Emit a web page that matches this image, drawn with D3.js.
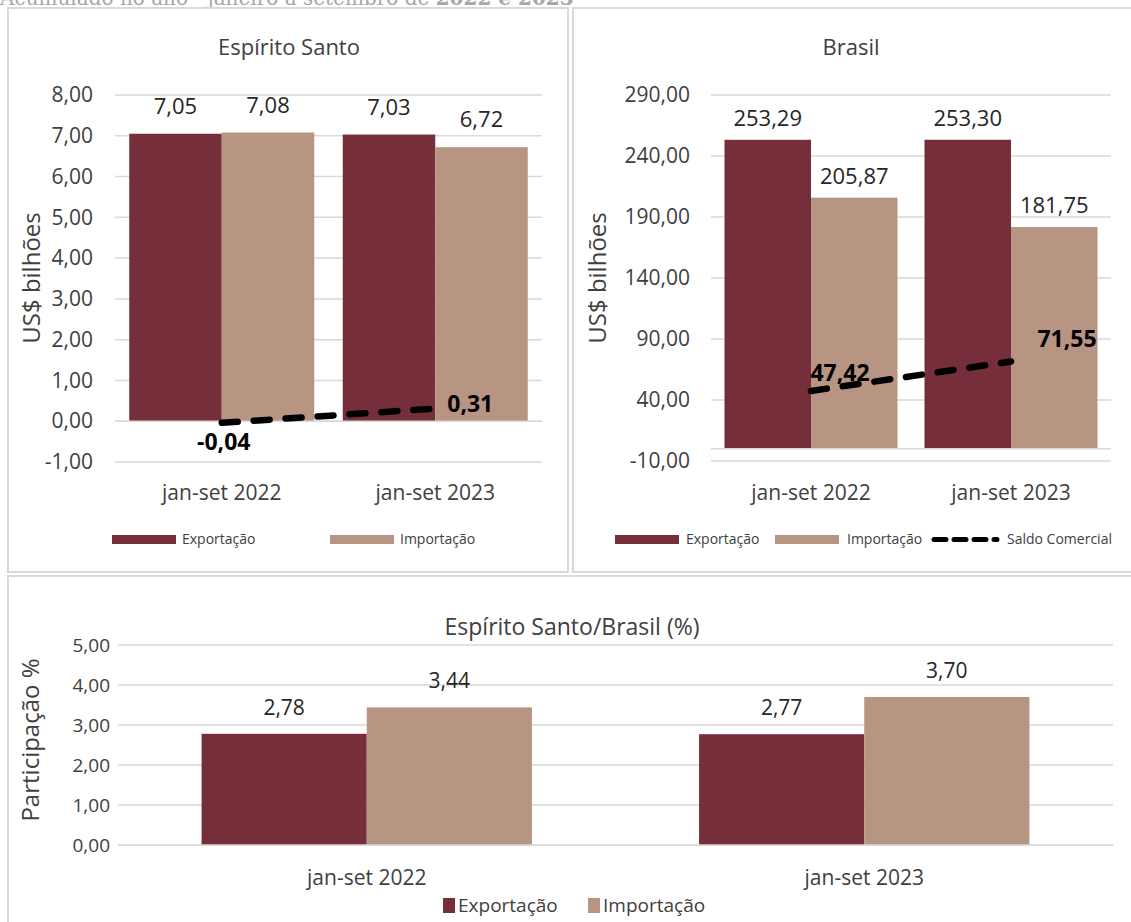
<!DOCTYPE html>
<html>
<head>
<meta charset="utf-8">
<script src="https://cdn.jsdelivr.net/npm/d3@7"></script>
<style>
  body { margin: 0; background: #fff; }
  text { font-family: "Open Sans", sans-serif; }
</style>
</head>
<body>
<div id="chart-area"></div>
<script>
// data
var periods = ["jan-set 2022", "jan-set 2023"];
var seriesNames = ["Exportação", "Importação"];

var esExport = [7.05, 7.03];
var esImport = [7.08, 6.72];
var esSaldo = [-0.04, 0.31];
var esTicks = [-1, 0, 1, 2, 3, 4, 5, 6, 7, 8];

var brExport = [253.29, 253.30];
var brImport = [205.87, 181.75];
var brSaldo = [47.42, 71.55];
var brTicks = [-10, 40, 90, 140, 190, 240, 290];

var shareExport = [2.78, 2.77];
var shareImport = [3.44, 3.70];
var shareTicks = [0, 1, 2, 3, 4, 5];

var colors = { "Exportação": "#772e3b", "Importação": "#b89483" };
var fmt = function(v) { return d3.format(".2f")(v).replace(".", ",").replace("−", "-"); };

var W = 1131, H = 922;

const svg = d3.select("#chart-area")
    .append('svg')
    .attr('width', W)
    .attr('height', H);

svg.append('rect').attr('width', W).attr('height', H).attr('fill', '#fff');

// header text, cut at top like the source
const header = svg.append('text')
    .attr('x', 0)
    .attr('y', 5)
    .attr('font-size', '20px')
    .attr('fill', '#a6a6a6')
    .style('font-family', '"DejaVu Serif", serif');
header.append('tspan').text('Acumulado no ano - janeiro a setembro de ');
header.append('tspan').attr('font-weight', 'bold').text('2022 e 2023');

// panel frames
svg.append('rect').attr('x', 8).attr('y', 8).attr('width', 560).attr('height', 564)
    .attr('fill', 'none').attr('stroke', '#d9d9d9').attr('stroke-width', 2);
svg.append('rect').attr('x', 573).attr('y', 8).attr('width', 570).attr('height', 564)
    .attr('fill', 'none').attr('stroke', '#d9d9d9').attr('stroke-width', 2);
svg.append('rect').attr('x', 8).attr('y', 576).attr('width', 1140).attr('height', 360)
    .attr('fill', 'none').attr('stroke', '#d9d9d9').attr('stroke-width', 2);

function drawPanel(opt) {
    var g = svg.append('g');

    var yScale = d3.scaleLinear()
        .domain(opt.domain)
        .range(opt.yRange);

    var xScale = d3.scaleBand()
        .domain(periods)
        .range(opt.xRange)
        .padding(0);

    var xInner = d3.scaleBand()
        .domain(seriesNames)
        .range([0, xScale.bandwidth()])
        .paddingInner(0)
        .paddingOuter(opt.outer);

    // gridlines
    g.selectAll('line.grid')
        .data(opt.ticks)
        .enter()
        .append('line')
        .attr('class', 'grid')
        .attr('x1', opt.xRange[0])
        .attr('x2', opt.xRange[1])
        .attr('y1', function(d) { return yScale(d); })
        .attr('y2', function(d) { return yScale(d); })
        .attr('stroke', '#d9d9d9')
        .attr('stroke-width', 1.5);

    // y axis labels
    var yAxisCall = d3.axisLeft(yScale)
        .tickValues(opt.ticks)
        .tickSize(0)
        .tickPadding(opt.tickPad)
        .tickFormat(fmt);

    var yAxis = g.append('g')
        .attr('transform', 'translate(' + opt.xRange[0] + ',0)')
        .call(yAxisCall);
    yAxis.select('.domain').remove();
    yAxis.selectAll('text')
        .attr('font-family', '"Open Sans", sans-serif')
        .attr('font-size', opt.tickSize)
        .attr('fill', '#404040');

    // bars
    var rows = [];
    periods.forEach(function(p, i) {
        rows.push({ period: p, series: "Exportação", value: opt.exp[i] });
        rows.push({ period: p, series: "Importação", value: opt.imp[i] });
    });

    g.selectAll('rect.bar')
        .data(rows)
        .enter()
        .append('rect')
        .attr('class', 'bar')
        .attr('x', function(d) { return xScale(d.period) + xInner(d.series); })
        .attr('y', function(d) { return yScale(d.value); })
        .attr('width', xInner.bandwidth())
        .attr('height', function(d) { return yScale(0) - yScale(d.value); })
        .attr('fill', function(d) { return colors[d.series]; });

    // zero axis line
    g.append('line')
        .attr('x1', opt.xRange[0])
        .attr('x2', opt.xRange[1])
        .attr('y1', yScale(0))
        .attr('y2', yScale(0))
        .attr('stroke', '#d9d9d9')
        .attr('stroke-width', 1.5);

    // value labels
    g.selectAll('text.val')
        .data(rows)
        .enter()
        .append('text')
        .attr('class', 'val')
        .attr('x', function(d) { return xScale(d.period) + xInner(d.series) + xInner.bandwidth() / 2; })
        .attr('y', function(d) { return yScale(d.value) - opt.labelGap; })
        .attr('text-anchor', 'middle')
        .attr('font-size', opt.valSize)
        .attr('fill', '#262626')
        .text(function(d) { return fmt(d.value); });

    // category labels
    g.selectAll('text.cat')
        .data(periods)
        .enter()
        .append('text')
        .attr('class', 'cat')
        .attr('x', function(d) { return xScale(d) + xScale.bandwidth() / 2; })
        .attr('y', opt.catY)
        .attr('text-anchor', 'middle')
        .attr('font-size', opt.catSize)
        .attr('fill', '#404040')
        .text(function(d) { return d; });

    // title
    g.append('text')
        .attr('x', opt.titleX)
        .attr('y', opt.titleY)
        .attr('text-anchor', 'middle')
        .attr('font-size', opt.titleSize)
        .attr('fill', '#404040')
        .text(opt.title);

    // y axis title
    g.append('text')
        .attr('transform', 'translate(' + opt.yLabelX + ',' + opt.yLabelY + ') rotate(-90)')
        .attr('text-anchor', 'middle')
        .attr('font-size', opt.yLabelSize)
        .attr('fill', '#404040')
        .text(opt.yLabel);

    // saldo line
    if (opt.saldo) {
        var cx = function(i) { return xScale(periods[i]) + xScale.bandwidth() / 2; };
        var line = d3.line()
            .x(function(d, i) { return cx(i); })
            .y(function(d) { return yScale(d); });
        g.append('path')
            .datum(opt.saldo)
            .attr('d', line)
            .attr('fill', 'none')
            .attr('stroke', '#000')
            .attr('stroke-width', 6.5)
            .attr('stroke-linecap', 'round')
            .attr('stroke-dasharray', '16,16');

        g.selectAll('text.saldo')
            .data(opt.saldo)
            .enter()
            .append('text')
            .attr('class', 'saldo')
            .attr('x', function(d, i) { return cx(i) + opt.saldoDx[i]; })
            .attr('y', function(d, i) { return yScale(d) + opt.saldoDy[i]; })
            .attr('text-anchor', 'middle')
            .attr('font-size', opt.saldoSize)
            .attr('font-weight', 'bold')
            .attr('fill', '#000')
            .text(function(d) { return fmt(d); });
    }
    return g;
}

drawPanel({
    title: 'Espírito Santo', titleX: 289, titleY: 55, titleSize: '22px',
    domain: [-1, 8], yRange: [462, 95], xRange: [115, 542], outer: 0.154,
    ticks: esTicks, tickPad: 22, tickSize: '21px', valSize: '22px', labelGap: 20,
    catSize: '21px', exp: esExport, imp: esImport, catY: 500,
    yLabel: 'US$ bilhões', yLabelX: 40, yLabelY: 278, yLabelSize: '24px',
    saldo: esSaldo, saldoDx: [2, 35], saldoDy: [27, 3], saldoSize: '23px'
});

drawPanel({
    title: 'Brasil', titleX: 851, titleY: 55, titleSize: '22px',
    domain: [-10, 290], yRange: [461, 95], xRange: [711, 1111], outer: 0.156,
    ticks: brTicks, tickPad: 21, tickSize: '21px', valSize: '22px', labelGap: 14,
    catSize: '21px', exp: brExport, imp: brImport, catY: 500,
    yLabel: 'US$ bilhões', yLabelX: 606, yLabelY: 278, yLabelSize: '24px',
    saldo: brSaldo, saldoDx: [29, 56], saldoDy: [-10, -15], saldoSize: '23px'
});

drawPanel({
    title: 'Espírito Santo/Brasil (%)', titleX: 572, titleY: 635, titleSize: '23px',
    domain: [0, 5], yRange: [845, 645], xRange: [118, 1113], outer: 0.506,
    ticks: shareTicks, tickPad: 8, tickSize: '19px', valSize: '21px', labelGap: 19,
    catSize: '21px', exp: shareExport, imp: shareImport, catY: 885,
    yLabel: 'Participação %', yLabelX: 39, yLabelY: 740, yLabelSize: '24px'
});

// legends
function legendRect(x, y, w, h, name, tx, size) {
    svg.append('rect').attr('x', x).attr('y', y).attr('width', w).attr('height', h)
        .attr('fill', colors[name]);
    svg.append('text').attr('x', tx).attr('y', y + h / 2).attr('dy', '0.35em')
        .attr('font-size', size).attr('fill', '#404040').text(name);
}
legendRect(112, 535, 64, 9, "Exportação", 182, '14px');
legendRect(330, 535, 64, 9, "Importação", 400, '14px');

legendRect(615, 535, 64, 9, "Exportação", 686, '14px');
legendRect(775, 535, 64, 9, "Importação", 847, '14px');
svg.append('line').attr('x1', 934).attr('x2', 997).attr('y1', 539.5).attr('y2', 539.5)
    .attr('stroke', '#000').attr('stroke-width', 5).attr('stroke-linecap', 'round')
    .attr('stroke-dasharray', '12,8');
svg.append('text').attr('x', 1007).attr('y', 539.5).attr('dy', '0.35em')
    .attr('font-size', '14px').attr('fill', '#404040').text('Saldo Comercial');

legendRect(443, 898, 12, 15, "Exportação", 458, '19px');
legendRect(588, 898, 12, 15, "Importação", 603, '19px');
</script>
</body>
</html>
